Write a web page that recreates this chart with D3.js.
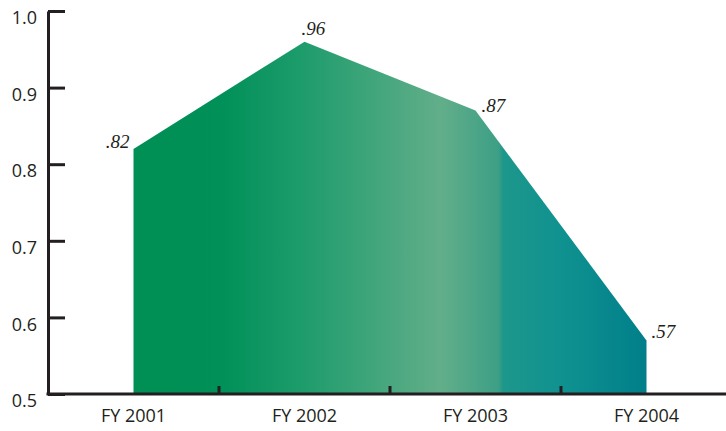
<!DOCTYPE html>
<html>
<head>
  <style type="text/css">
    body { margin: 0; background: #fff; }
    .axis text { font: 18px "Open Sans", sans-serif; fill: #231f20; }
    .axis path, .axis line { fill: none; stroke: #231f20; stroke-width: 3; }
    .val { font: italic 19px "Liberation Serif", serif; fill: #231f20; }
  </style>
</head>
<body>
  <div class="svg_container"></div>

  <script src="https://cdnjs.cloudflare.com/ajax/libs/d3/7.8.5/d3.min.js"></script>
  <script type="text/javascript">
    // data
    var years = ["FY 2001", "FY 2002", "FY 2003", "FY 2004"];
    var values = [0.82, 0.96, 0.87, 0.57];
    var valueLabels = [".82", ".96", ".87", ".57"];
    var yTicks = [0.5, 0.6, 0.7, 0.8, 0.9, 1.0];

    var width = 726, height = 431;

    var svg = d3.select(".svg_container").append("svg")
      .attr("width", width)
      .attr("height", height);

    // scales
    var x = d3.scaleBand()
      .domain(years)
      .range([48, 732])
      .padding(0);
    var y = d3.scaleLinear()
      .domain([0.5, 1.0])
      .range([394, 11]);

    function cx(d) { return x(d) + x.bandwidth() / 2; }

    // gradient across the area
    var defs = svg.append("defs");
    var grad = defs.append("linearGradient")
      .attr("id", "grad")
      .attr("gradientUnits", "userSpaceOnUse")
      .attr("x1", cx(years[0])).attr("x2", cx(years[years.length - 1]))
      .attr("y1", 0).attr("y2", 0);
    [
      [0, "#008f54"],
      [0.17, "#009058"],
      [0.33, "#1e9c6c"],
      [0.6, "#62ae8a"],
      [0.712, "#3c9f85"],
      [0.72, "#1d978b"],
      [0.83, "#109290"],
      [1, "#007f8a"]
    ].forEach(function(s) {
      grad.append("stop").attr("offset", s[0]).attr("stop-color", s[1]);
    });

    var rows = years.map(function(d, i) { return { year: d, value: values[i], label: valueLabels[i] }; });

    var area = d3.area()
      .x(function(d) { return cx(d.year); })
      .y0(y(0.5))
      .y1(function(d) { return y(d.value); });

    svg.append("path")
      .datum(rows)
      .attr("d", area)
      .attr("fill", "url(#grad)");

    // value labels
    var anchors = ["end", "start", "start", "start"];
    var offs = [[-4, -1], [-3, -7], [6, 1], [5, -2]];
    svg.selectAll(".val")
      .data(rows)
      .enter().append("text")
      .attr("class", "val")
      .attr("text-anchor", function(d, i) { return anchors[i]; })
      .attr("x", function(d, i) { return cx(d.year) + offs[i][0]; })
      .attr("y", function(d, i) { return y(d.value) + offs[i][1]; })
      .text(function(d) { return d.label; });

    // y axis, ticks pointing inward
    var yAxis = svg.append("g")
      .attr("class", "axis")
      .attr("transform", "translate(48,0)")
      .call(d3.axisLeft(y).tickValues(yTicks).tickSizeInner(-17).tickSizeOuter(0).tickPadding(11)
        .tickFormat(d3.format(".1f")));
    yAxis.selectAll("text").attr("dy", "0.7em");

    // x axis: labels at band centres, ticks between bands
    var xAxis = svg.append("g")
      .attr("class", "axis")
      .attr("transform", "translate(0,394)")
      .call(d3.axisBottom(x).tickSize(0).tickPadding(15));
    xAxis.select(".domain").remove();
    xAxis.append("line")
      .attr("x1", 46.5).attr("x2", width)
      .attr("y1", 0).attr("y2", 0);
    xAxis.selectAll(".sep")
      .data(years.slice(1))
      .enter().append("line")
      .attr("class", "sep")
      .attr("x1", function(d) { return x(d); })
      .attr("x2", function(d) { return x(d); })
      .attr("y1", 0).attr("y2", -8);
  </script>
</body>
</html>
